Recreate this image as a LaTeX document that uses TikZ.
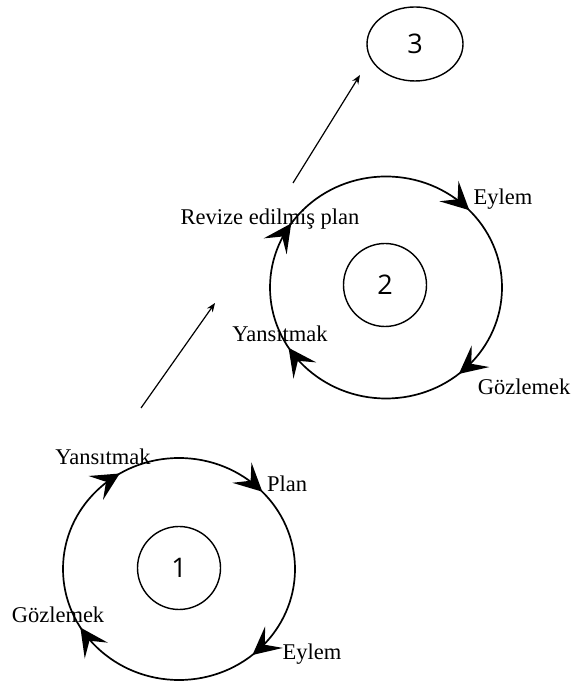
\documentclass[tikz,border=0pt]{standalone}
\usepackage{fontspec}
\setmainfont{Liberation Serif}
\newfontfamily\numfont{Open Sans}
\usetikzlibrary{arrows.meta,decorations.markings,shapes.geometric}
\newcommand{\bigtip}{\fill (3,0) -- (-25,14) -- (-13,0) -- (-25,-14) -- cycle;}
\begin{document}
\begin{tikzpicture}[x=1pt,y=1pt,
  lbl/.style={font=\fontsize{22.5}{26}\selectfont, inner sep=0pt, anchor=base},
  inner/.style={circle, draw, line width=1.4pt, minimum size=83pt, inner sep=0pt, font=\numfont\fontsize{27}{32}\selectfont},
  cyc/.style={line width=1.7pt},
  link/.style={line width=1.2pt, -{Stealth[length=9pt,width=7pt]}}]
\useasboundingbox (0,0) rectangle (575,684);

% cycle 1
\draw[cyc, postaction={decorate}, decoration={markings,
  mark=at position 0.135 with {\bigtip},
  mark=at position 0.409 with {\bigtip},
  mark=at position 0.659 with {\bigtip},
  mark=at position 0.875 with {\bigtip}}]
  (295,115) arc[start angle=0, end angle=-360, x radius=116, y radius=111];
\node[inner] (c1) at (179,116) {1};
\node[lbl] (y1) at (103,219) {Yansıtmak};
\node[lbl] (p1) at (287,192) {Plan};
\node[lbl] (g1) at (58,61) {Gözlemek};
\node[lbl] (e1) at (312,24) {Eylem};

% cycle 2
\draw[cyc, postaction={decorate}, decoration={markings,
  mark=at position 0.136 with {\bigtip},
  mark=at position 0.406 with {\bigtip},
  mark=at position 0.592 with {\bigtip},
  mark=at position 0.875 with {\bigtip}}]
  (502,396.5) arc[start angle=0, end angle=-360, x radius=116, y radius=111];
\node[inner] (c2) at (385,399) {2};
\node[lbl] (e2) at (503,479) {Eylem};
\node[lbl] (r2) at (270,459) {Revize edilmiş plan};
\node[lbl] (y2) at (280,342) {Yansıtmak};
\node[lbl] (g2) at (524,289) {Gözlemek};

% stage 3
\node[ellipse, draw, line width=1.4pt, minimum width=96pt, minimum height=74pt, inner sep=0pt,
  font=\numfont\fontsize{27}{32}\selectfont] (c3) at (415,640) {3};

% links
\coordinate (s1) at (141,276);
\coordinate (t1) at (215,381);
\coordinate (s2) at (293,501);
\coordinate (t2) at (360,609);
\draw[link] (s1) -- (t1);
\draw[link] (s2) -- (t2);
\end{tikzpicture}
\end{document}
